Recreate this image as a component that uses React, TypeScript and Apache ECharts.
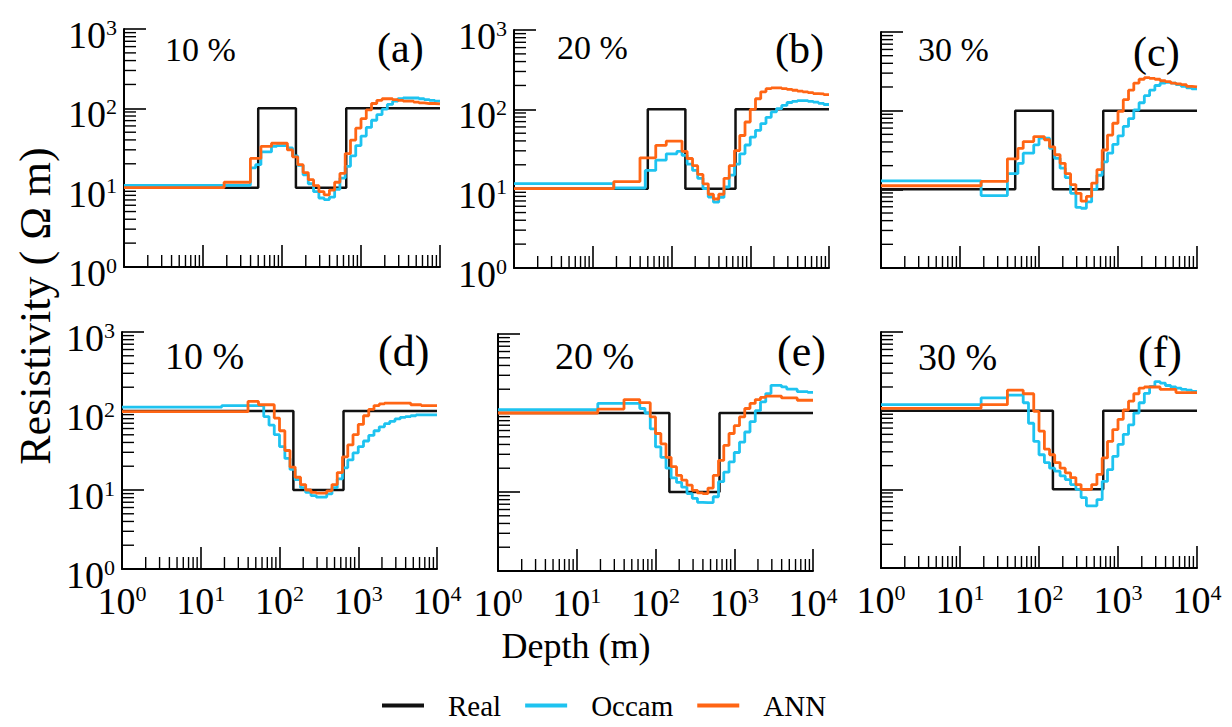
import React, { useEffect, useRef } from 'react';
import * as echarts from 'echarts';

// Layer tops (m) of the inverted models; last layer extends to depthEnd
const layerTops = [1, 15.8, 18.5, 21.5, 25.1, 29.3, 34.1, 39.8, 46.4, 54.1, 63.1, 73.6, 85.8, 100, 117, 136, 158, 185, 215, 251, 293, 341, 398, 464, 541, 631, 736, 858, 1000, 1166, 1359, 1585, 1848, 2154, 2512, 2929, 3415, 3981, 4642, 5412, 6310, 7356, 8577];
const depthEnd = 10000;

// Real models
const realTopDepths = [1, 50, 150, 650];
const realTopRho = [10, 100, 10, 100];
const realBottomDepths = [1, 150, 650];
const realBottomRho = [100, 10, 100];

// (a) 10 %
const occamA = [10.7, 10.7, 10.7, 10.7, 10.7, 10.7, 10.7, 17.8, 19.5, 28.2, 28.2, 33.1, 33.9, 33.9, 31.6, 25.1, 19.1, 14.5, 11.2, 8.91, 7.41, 7.08, 7.59, 9.55, 13.2, 18.6, 25.1, 33.9, 44.7, 57.5, 70.8, 83.2, 97.7, 112, 123, 132, 135, 135, 135, 132, 129, 126, 123];
const annA = [10, 10, 11.7, 11.7, 11.7, 11.7, 11.7, 23.4, 23.4, 33.1, 33.1, 36.3, 36.3, 36.3, 29.9, 24.5, 19.5, 15.5, 12.6, 10.6, 8.91, 8.13, 9.33, 11.7, 15.1, 26.9, 39.8, 56.2, 74.1, 95.5, 115, 126, 132, 132, 129, 126, 123, 123, 120, 117, 115, 115, 114];
// (b) 20 %
const occamB = [11.6, 11.6, 10.2, 10.2, 10.2, 10.2, 10.2, 10.2, 17.0, 17.0, 22.9, 22.9, 27.5, 27.5, 29.5, 26.3, 20.4, 17.0, 13.5, 10, 7.85, 6.76, 7.76, 10.5, 14.8, 20.4, 27.5, 35.5, 44.7, 54.3, 66.1, 79.4, 92.7, 102, 112, 122, 126, 129, 129, 126, 123, 119, 115];
const annB = [10, 10, 12.3, 12.3, 12.3, 12.3, 12.3, 24.5, 24.5, 24.5, 35.2, 35.2, 39.8, 39.8, 39.8, 29.5, 24.0, 19.5, 15.1, 11.5, 8.51, 7.41, 8.51, 13.5, 19.5, 30.2, 46.8, 69.2, 100, 136, 166, 182, 186, 186, 182, 178, 174, 170, 166, 162, 158, 157, 153];
// (c) 30 %
const occamC = [12.8, 12.8, 8.32, 8.32, 8.32, 8.32, 8.32, 15.8, 15.8, 21.4, 28.8, 28.8, 36.7, 44.7, 44.7, 33.1, 24.8, 18.6, 14.1, 8.91, 5.89, 5.75, 6.92, 10, 15.1, 22.4, 28.8, 37.2, 47.9, 63.1, 79.4, 102, 126, 155, 182, 209, 224, 229, 224, 214, 204, 195, 189];
const annC = [11.1, 11.1, 12.6, 12.6, 12.6, 12.6, 12.6, 24.4, 24.4, 33.1, 40.5, 40.5, 46.8, 46.8, 42.7, 34.7, 27.5, 21.4, 15.8, 11.5, 8.91, 7.08, 8.13, 12.0, 17.8, 31.6, 49.0, 69.2, 97.7, 138, 182, 224, 251, 263, 257, 251, 240, 234, 224, 219, 214, 204, 200];
// (d) 10 %
const occamD = [112, 112, 117, 117, 117, 117, 117, 117, 117, 117, 85.1, 66.1, 50.1, 35.5, 25.1, 18.2, 13.5, 10.7, 9.33, 8.51, 8.13, 8.13, 8.91, 10.7, 13.8, 19.1, 24.0, 29.5, 35.5, 41.7, 49.0, 56.2, 63.1, 69.2, 74.1, 79.4, 83.2, 85.1, 87.1, 89.1, 89.1, 89.1, 89.1];
const annD = [98, 98, 98, 98, 98, 98, 98, 132, 132, 120, 120, 120, 81.3, 56.2, 31.6, 19.5, 14.5, 11.7, 10, 9.33, 9.12, 9.12, 9.77, 11.7, 16.6, 26.3, 37.2, 50.1, 67.6, 87.1, 105, 117, 123, 126, 126, 126, 126, 126, 120, 120, 117, 117, 117];
// (e) 20 %
const occamE = [110, 110, 132, 132, 132, 132, 132, 132, 132, 132, 114, 100, 63.1, 37.2, 27.5, 20.0, 15.1, 13.2, 11.5, 9.55, 8.32, 7.41, 7.35, 7.35, 8.71, 13.5, 17.8, 24.0, 31.6, 42.7, 57.5, 77.6, 107, 138, 176, 224, 224, 214, 200, 200, 186, 186, 182];
const annE = [100, 100, 112, 112, 112, 112, 112, 148, 148, 148, 135, 135, 89.1, 55.0, 40.7, 27.5, 20.9, 16.2, 14.1, 12.2, 10.5, 9.77, 9.55, 11.2, 16.2, 25.1, 38.9, 55.0, 69.2, 89.1, 114, 132, 148, 158, 164, 164, 164, 155, 155, 155, 145, 145, 145];
// (f) 30 %
const occamF = [119, 119, 145, 145, 145, 145, 145, 158, 158, 158, 126, 69.2, 40.7, 27.5, 21.9, 18.6, 17.0, 14.8, 13.3, 11.5, 10, 7.85, 6.17, 6.17, 7.41, 12.6, 17.8, 26.3, 37.2, 50.1, 66.1, 93.3, 126, 166, 204, 234, 224, 209, 200, 194, 186, 182, 176];
const annF = [107, 107, 119, 119, 119, 119, 119, 182, 182, 182, 164, 164, 97.7, 55.0, 32.4, 27.5, 21.9, 18.6, 16.2, 14.1, 11.5, 10, 10, 11.5, 15.5, 25.1, 40.7, 57.5, 77.6, 102, 132, 164, 194, 200, 200, 200, 186, 186, 186, 170, 170, 170, 170];

const panelLetters = ['(a)', '(b)', '(c)', '(d)', '(e)', '(f)'];
const noiseLabels = ['10 %', '20 %', '30 %', '10 %', '20 %', '30 %'];
const legendNames = ['Real', 'Occam', 'ANN'];
const minorMantissas = [2, 3, 4, 5, 6, 7, 8, 9];
const xDecades = [1, 10, 100, 1000];
const yDecades = [1, 10, 100];

const COLORS: Record<string, string> = { Real: '#111111', Occam: '#1EC3F0', ANN: '#FF6514' };
const FONT = 'Liberation Serif';

const grids = [
  { left: 124, top: 29, width: 316, height: 238 },
  { left: 514, top: 30, width: 315, height: 238 },
  { left: 881, top: 32, width: 316, height: 236 },
  { left: 122, top: 332, width: 315, height: 237 },
  { left: 498, top: 334, width: 315, height: 237 },
  { left: 881, top: 332, width: 316, height: 236 },
];

const panels = [
  { realD: realTopDepths, realR: realTopRho, occam: occamA, ann: annA },
  { realD: realTopDepths, realR: realTopRho, occam: occamB, ann: annB },
  { realD: realTopDepths, realR: realTopRho, occam: occamC, ann: annC },
  { realD: realBottomDepths, realR: realBottomRho, occam: occamD, ann: annD },
  { realD: realBottomDepths, realR: realBottomRho, occam: occamE, ann: annE },
  { realD: realBottomDepths, realR: realBottomRho, occam: occamF, ann: annF },
];

// annotation positions (pixels)
const noisePos = [[165, 49], [557, 47], [918, 49], [165, 356], [555, 356], [918, 357]];
const letterPos = [[377, 48], [775, 49], [1133, 52], [378, 351], [777, 351], [1138, 352]];

function stepData(depths: number[], vals: number[]) {
  const d = depths.map((x, k) => [x, vals[k]]);
  d.push([depthEnd, vals[vals.length - 1]]);
  return d;
}

const expFmt = (v: number) => `{b|10}{e|${Math.round(Math.log10(v))}}`;

export default function App() {
  const ref = useRef<HTMLDivElement>(null);
  useEffect(() => {
    if (!ref.current) return;
    const chart = echarts.init(ref.current, null, { renderer: 'svg' });

    const xMinor = xDecades.flatMap((d) => minorMantissas.map((m) => [m * d, 1]));
    const yMinor = yDecades.flatMap((d) => minorMantissas.map((m) => [1, m * d]));

    const series: any[] = [];
    panels.forEach((p, i) => {
      series.push({
        type: 'custom', xAxisIndex: i, yAxisIndex: i, silent: true, data: xMinor,
        renderItem: (params: any, api: any) => {
          const c = api.coord([api.value(0), api.value(1)]);
          return { type: 'line', shape: { x1: c[0], y1: c[1], x2: c[0], y2: c[1] - 12 }, style: { stroke: '#000', lineWidth: 1.4 } };
        },
      });
      series.push({
        type: 'custom', xAxisIndex: i, yAxisIndex: i, silent: true, data: yMinor,
        renderItem: (params: any, api: any) => {
          const c = api.coord([api.value(0), api.value(1)]);
          return { type: 'line', shape: { x1: c[0], y1: c[1], x2: c[0] + 12, y2: c[1] }, style: { stroke: '#000', lineWidth: 1.4 } };
        },
      });
      const mk = (name: string, data: any[], width: number, z: number) => ({
        name, type: 'line', xAxisIndex: i, yAxisIndex: i, data, step: 'end', symbol: 'none', showSymbol: false,
        lineStyle: { color: COLORS[name], width }, itemStyle: { color: COLORS[name] }, z,
      });
      series.push(mk('Real', stepData(p.realD, p.realR), 2.5, 3));
      series.push(mk('Occam', stepData(layerTops, p.occam), 2.8, 4));
      series.push(mk('ANN', stepData(layerTops, p.ann), 2.8, 5));
    });

    const graphic: any[] = [];
    noiseLabels.forEach((t, i) => {
      graphic.push({ type: 'text', x: noisePos[i][0], y: noisePos[i][1], style: { text: t, fontFamily: FONT, fontSize: i < 3 ? 34 : 38, fill: '#000', align: 'left', verticalAlign: 'middle' } });
      graphic.push({ type: 'text', x: letterPos[i][0], y: letterPos[i][1], style: { text: panelLetters[i], fontFamily: FONT, fontSize: i < 3 ? 42 : 44, fill: '#000', align: 'left', verticalAlign: 'middle' } });
    });
    graphic.push({ type: 'text', x: 576, y: 646, style: { text: 'Depth (m)', fontFamily: FONT, fontSize: 36, fill: '#000', align: 'center', verticalAlign: 'middle' } });
    graphic.push({ type: 'text', x: 35, y: 306, rotation: Math.PI / 2, style: { text: 'Resistivity ( Ω m)', fontFamily: FONT, fontSize: 44, fill: '#000', align: 'center', verticalAlign: 'middle' } });

    const option: any = {
      animation: false,
      backgroundColor: '#ffffff',
      textStyle: { fontFamily: FONT },
      grid: grids.map((g) => ({ ...g, containLabel: false, outerBoundsMode: 'none' })),
      xAxis: grids.map((g, i) => ({
        gridIndex: i, type: 'log', logBase: 10, min: 1, max: 10000,
        axisLine: { onZero: false, lineStyle: { color: '#000', width: 2 } },
        axisTick: { inside: true, length: 22, lineStyle: { color: '#000', width: 1.6 } },
        splitLine: { show: false },
        axisLabel: {
          show: i >= 3, margin: 13, showMinLabel: true, showMaxLabel: true, formatter: expFmt,
          fontFamily: FONT,
          rich: {
            b: { fontFamily: FONT, fontSize: 38, lineHeight: 38, color: '#000' },
            e: { fontFamily: FONT, fontSize: 22, lineHeight: 18, verticalAlign: 'top', color: '#000' },
          },
        },
      })),
      yAxis: grids.map((g, i) => ({
        gridIndex: i, type: 'log', logBase: 10, min: 1, max: 1000,
        axisLine: { onZero: false, lineStyle: { color: '#000', width: 2 } },
        axisTick: { inside: true, length: 22, lineStyle: { color: '#000', width: 1.6 } },
        splitLine: { show: false },
        axisLabel: {
          show: i === 0 || i === 1 || i === 3, margin: 7, showMinLabel: true, showMaxLabel: true,
          formatter: expFmt, padding: [12, 0, 0, 0], fontFamily: FONT,
          rich: {
            b: { fontFamily: FONT, fontSize: 38, lineHeight: 38, color: '#000' },
            e: { fontFamily: FONT, fontSize: 22, lineHeight: 12, verticalAlign: 'top', color: '#000' },
          },
        },
      })),
      legend: {
        data: legendNames.map((n) => ({ name: n, icon: 'rect' })),
        left: 382, top: 691, padding: 0, itemWidth: 42, itemHeight: 4, itemGap: 24,
        textStyle: { fontFamily: FONT, fontSize: 29, color: '#000', padding: [0, 0, 0, 19] },
      },
      graphic,
      series,
    };
    chart.setOption(option);
    return () => chart.dispose();
  }, []);
  return <div ref={ref} style={{ position: 'absolute', left: 0, top: 0, width: 1232, height: 727, background: '#fff' }} />;
}
